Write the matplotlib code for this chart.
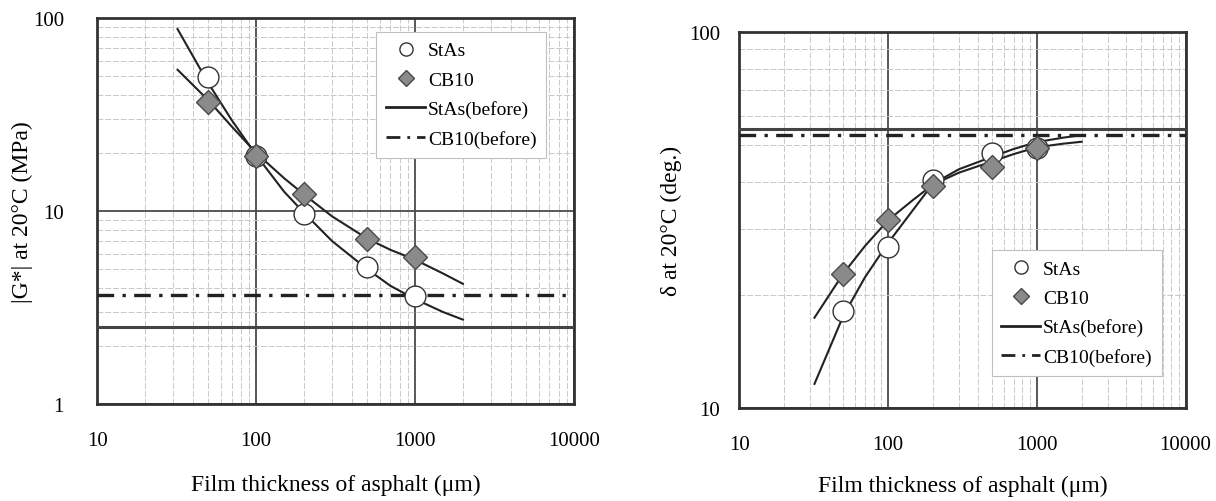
import matplotlib
matplotlib.use("Agg")
import matplotlib.pyplot as plt
from matplotlib.lines import Line2D
from matplotlib.ticker import FixedLocator, NullFormatter, LogLocator

plt.rcParams["font.family"] = ["Liberation Serif", "DejaVu Serif"]

# ── data ──
thick = [50, 100, 200, 500, 1000]           # film thickness (um)
g_stas = [49.3, 19.2, 9.65, 5.16, 3.64]    # |G*| (MPa)
g_cb10 = [36.6, 19.4, 12.3, 7.2, 5.75]
g_stas_before = 2.51
g_cb10_before = 3.68

d_stas = [18.1, 26.8, 40.5, 47.6, 49.2]    # delta (deg.)
d_cb10 = [22.8, 31.6, 38.9, 43.9, 49.2]
d_stas_before = 55.1
d_cb10_before = 53.4

# fitted curves
curve_x = [32, 50, 70, 100, 150, 200, 300, 500, 700, 1000, 1500, 2000]
g_stas_fit = [87.7, 46.0, 29.7, 19.5, 12.6, 9.8, 7.0, 5.0, 4.1, 3.5, 3.0, 2.74]
g_cb10_fit = [54.0, 37.5, 27.5, 20.0, 14.8, 12.2, 9.4, 7.2, 6.3, 5.6, 4.75, 4.2]
d_stas_fit = [11.6, 17.6, 22.3, 27.5, 34.0, 39.5, 43.2, 46.6, 48.9, 51.0, 52.4, 53.2]
d_cb10_fit = [17.4, 22.8, 27.0, 31.6, 36.0, 39.3, 42.3, 45.3, 47.4, 49.4, 50.5, 51.1]

x_ticks = [10, 100, 1000, 10000]
g_ticks = [1, 10, 100]
d_ticks = [10, 100]

LINE = "#222222"
CIRCLE = dict(marker="o", ms=15, mfc="white", mec="#333333", mew=1.0, ls="none", zorder=5)
DIAMOND = dict(marker="D", ms=12.5, mfc="#8a8a8a", mec="#4a4a4a", mew=1.0, ls="none", zorder=5)
DASHDOT = (0, (5, 2.5, 1, 2.5))


def style_axes(ax, yticks, xlab_y):
    ax.set_xscale("log")
    ax.set_yscale("log")
    ax.set_xlim(10, 10000)
    ax.set_ylim(yticks[0], yticks[-1])
    ax.xaxis.set_major_locator(FixedLocator(x_ticks))
    ax.set_xticklabels([str(t) for t in x_ticks])
    ax.yaxis.set_major_locator(FixedLocator(yticks))
    ax.set_yticklabels([str(t) for t in yticks])
    ax.xaxis.set_minor_locator(LogLocator(base=10, subs=range(2, 10)))
    ax.yaxis.set_minor_locator(LogLocator(base=10, subs=range(2, 10)))
    ax.xaxis.set_minor_formatter(NullFormatter())
    ax.yaxis.set_minor_formatter(NullFormatter())
    ax.grid(which="major", color="#4a4a4a", lw=1.3)
    ax.grid(which="minor", color="#c8c8c8", lw=0.7, ls=(0, (6, 2)))
    ax.set_axisbelow(True)
    ax.tick_params(which="both", length=0, labelsize=15)
    ax.tick_params(axis="x", pad=19)
    for sp in ax.spines.values():
        sp.set_linewidth(2)
        sp.set_color("#333333")
    ax.set_xlabel("Film thickness of asphalt (μm)", fontsize=17)
    ax.xaxis.set_label_coords(0.5, xlab_y)


def add_legend(ax, loc, anchor):
    handles = [
        Line2D([], [], marker="o", ms=9.5, mfc="white", mec="#333333", ls="none"),
        Line2D([], [], marker="D", ms=8, mfc="#8a8a8a", mec="#4a4a4a", ls="none"),
        Line2D([], [], color=LINE, lw=2),
        Line2D([], [], color=LINE, lw=2, ls=DASHDOT),
    ]
    labels = ["StAs", "CB10", "StAs(before)", "CB10(before)"]
    leg = ax.legend(handles, labels, loc=loc, bbox_to_anchor=anchor, fontsize=14,
                    fancybox=False, framealpha=1, edgecolor="#c0c0c0",
                    handlelength=2.0, handletextpad=0.15, labelspacing=0.6,
                    borderpad=0.5, borderaxespad=0)
    leg.get_frame().set_linewidth(0.8)


fig = plt.figure(figsize=(12.16, 5.02), dpi=100)
ax1 = fig.add_axes([0.080, 0.193, 0.392, 0.769])
ax2 = fig.add_axes([0.608, 0.185, 0.367, 0.749])

# ── |G*| ──
style_axes(ax1, g_ticks, -0.18)
ax1.axhline(g_stas_before, color="#444444", lw=2.2, zorder=3)
ax1.axhline(g_cb10_before, color=LINE, lw=2.4, ls=DASHDOT, zorder=3)
ax1.plot(curve_x, g_stas_fit, color=LINE, lw=1.5, zorder=4)
ax1.plot(curve_x, g_cb10_fit, color=LINE, lw=1.5, zorder=4)
ax1.plot(thick, g_stas, **CIRCLE)
ax1.plot(thick, g_cb10, **DIAMOND)
ax1.set_ylabel("|G*| at 20°C (MPa)", fontsize=17)
ax1.yaxis.set_label_coords(-0.134, 0.5)
ax1.tick_params(axis="y", pad=24)
add_legend(ax1, "upper right", (0.942, 0.964))

# ── delta ──
style_axes(ax2, d_ticks, -0.177)
ax2.axhline(d_stas_before, color="#444444", lw=2.2, zorder=3)
ax2.axhline(d_cb10_before, color=LINE, lw=2.4, ls=DASHDOT, zorder=3)
ax2.plot(curve_x, d_stas_fit, color=LINE, lw=1.5, zorder=4)
ax2.plot(curve_x, d_cb10_fit, color=LINE, lw=1.5, zorder=4)
ax2.plot(thick, d_stas, **CIRCLE)
ax2.plot(thick, d_cb10, **DIAMOND)
ax2.set_ylabel("δ at 20°C (deg.)", fontsize=17)
ax2.yaxis.set_label_coords(-0.128, 0.5)
ax2.tick_params(axis="y", pad=14)
add_legend(ax2, "lower right", (0.946, 0.086))

fig.savefig("out.png", dpi=100)
